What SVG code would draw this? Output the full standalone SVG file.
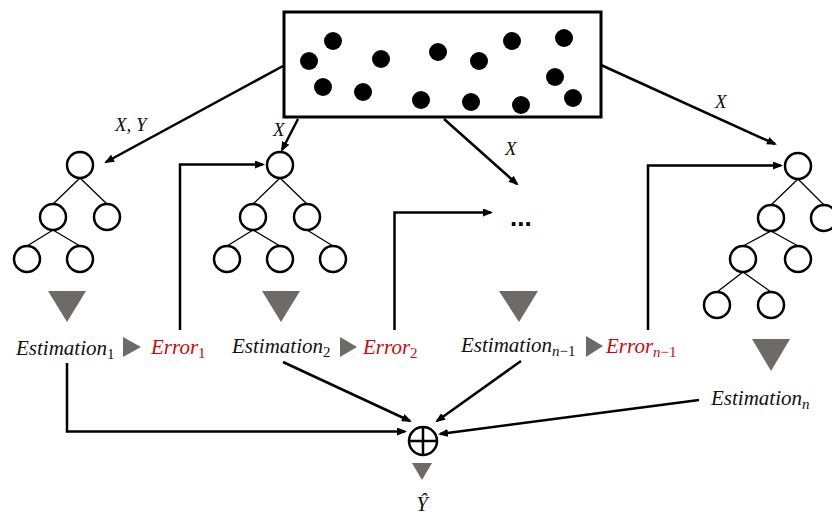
<svg xmlns="http://www.w3.org/2000/svg" width="832" height="516" viewBox="0 0 832 516">
<style>
.node{fill:#fff;stroke:#000;stroke-width:2.5}
.edge{stroke:#000;stroke-width:1.3;fill:none}
.conn{stroke:#000;stroke-width:2.5;fill:none}
.dot{fill:#000}
.tri{fill:#6f6a6a}
.lbl{font-family:"Liberation Serif","DejaVu Serif",serif;font-style:italic;font-size:21px;fill:#111}
.err{fill:#c80a0a}
.sub{font-size:15px}
.up{font-style:normal}
.xl{font-family:"Liberation Serif","DejaVu Serif",serif;font-style:italic;font-size:19px;fill:#111}
</style>
<defs>
<marker id="arr" viewBox="0 0 10 8" refX="8" refY="4" markerWidth="10" markerHeight="8" markerUnits="userSpaceOnUse" orient="auto">
<path d="M0,0 L10,4 L0,8 z" fill="#000"/>
</marker>
</defs>
<rect width="832" height="516" fill="#fff"/>

<g id="data">
<rect x="284" y="12" width="317" height="105" fill="#fff" stroke="#000" stroke-width="3"/>
<circle class="dot" cx="333" cy="41" r="9"/>
<circle class="dot" cx="309" cy="61" r="9"/>
<circle class="dot" cx="381" cy="59" r="9"/>
<circle class="dot" cx="323" cy="87" r="9"/>
<circle class="dot" cx="363" cy="92" r="9"/>
<circle class="dot" cx="438" cy="52" r="9"/>
<circle class="dot" cx="479" cy="61" r="9"/>
<circle class="dot" cx="512" cy="41" r="9"/>
<circle class="dot" cx="564" cy="38" r="9"/>
<circle class="dot" cx="555" cy="77" r="9"/>
<circle class="dot" cx="573" cy="98" r="9"/>
<circle class="dot" cx="421" cy="100" r="9"/>
<circle class="dot" cx="471" cy="102" r="9"/>
<circle class="dot" cx="521" cy="105" r="9"/>
</g>

<g id="tree1">
<path class="edge" d="M80,178 L53,204 M80,178 L107,204 M53,230 L27,246 M53,230 L80,246"/>
<circle class="node" cx="80" cy="165" r="13"/>
<circle class="node" cx="53" cy="217" r="13"/>
<circle class="node" cx="107" cy="217" r="13"/>
<circle class="node" cx="27" cy="259" r="13"/>
<circle class="node" cx="80" cy="259" r="13"/>
<path class="tri" d="M48,291 L86,291 L67,322 z"/>
</g>

<g id="tree2">
<path class="edge" d="M280,178 L253,204 M280,178 L307,204 M253,230 L227,246 M253,230 L280,246 M307,230 L333,246"/>
<circle class="node" cx="280" cy="165" r="13"/>
<circle class="node" cx="253" cy="217" r="13"/>
<circle class="node" cx="307" cy="217" r="13"/>
<circle class="node" cx="227" cy="259" r="13"/>
<circle class="node" cx="280" cy="259" r="13"/>
<circle class="node" cx="333" cy="259" r="13"/>
<path class="tri" d="M262,291 L300,291 L281,322 z"/>
</g>

<g id="treeN1">
<text x="510" y="226" font-family="Liberation Sans, Arial, sans-serif" font-weight="bold" font-size="26" fill="#000">...</text>
<path class="tri" d="M499,291 L538,291 L519,322 z"/>
</g>

<g id="treeN">
<path class="edge" d="M798,179 L771,205 M798,179 L824,205 M771,231 L743,246 M771,231 L798,246 M743,272 L717,292 M743,272 L771,292"/>
<circle class="node" cx="798" cy="166" r="13"/>
<circle class="node" cx="771" cy="218" r="13"/>
<circle class="node" cx="824" cy="218" r="13"/>
<circle class="node" cx="743" cy="259" r="13"/>
<circle class="node" cx="798" cy="259" r="13"/>
<circle class="node" cx="717" cy="305" r="13"/>
<circle class="node" cx="771" cy="305" r="13"/>
<path class="tri" d="M752,339 L790,339 L771,371 z"/>
</g>

<g id="labels">
<text class="lbl" x="16" y="355">Estimation<tspan class="sub up" dy="4">1</tspan></text>
<path class="tri" d="M123,337 L123,357 L141,347 z"/>
<text class="lbl err" x="151" y="354">Error<tspan class="sub up" dy="4">1</tspan></text>
<text class="lbl" x="232" y="353">Estimation<tspan class="sub up" dy="4">2</tspan></text>
<path class="tri" d="M340,337 L340,357 L357,347 z"/>
<text class="lbl err" x="363" y="354">Error<tspan class="sub up" dy="4">2</tspan></text>
<text class="lbl" x="461" y="352">Estimation<tspan class="sub" dy="4">n</tspan><tspan class="sub up">−1</tspan></text>
<path class="tri" d="M586,336 L586,357 L603,346 z"/>
<text class="lbl err" x="606" y="353">Error<tspan class="sub" dy="4">n</tspan><tspan class="sub up">−1</tspan></text>
<text class="lbl" x="711" y="405">Estimation<tspan class="sub" dy="4">n</tspan></text>
</g>

<g id="sum">
<circle cx="423" cy="441" r="14" fill="#fff" stroke="#000" stroke-width="2.5"/>
<path d="M409,441 L437,441 M423,427 L423,455" stroke="#000" stroke-width="2.5"/>
<path class="tri" d="M412,463 L432,463 L422,480 z"/>
<text class="lbl" x="422" y="511" text-anchor="middle" font-size="24">Ŷ</text>
</g>

<g id="connectors">
<line class="conn" x1="283" y1="66" x2="106" y2="162" marker-end="url(#arr)"/>
<line class="conn" x1="298" y1="119" x2="282" y2="150" marker-end="url(#arr)"/>
<line class="conn" x1="444" y1="119" x2="517" y2="184" marker-end="url(#arr)"/>
<line class="conn" x1="601" y1="65" x2="775" y2="144" marker-end="url(#arr)"/>
<polyline class="conn" points="180,330 180,164.5 263,164.5" marker-end="url(#arr)"/>
<polyline class="conn" points="394.5,330 394.5,212.5 491,212.5" marker-end="url(#arr)"/>
<polyline class="conn" points="648,330 648,165.5 781,165.5" marker-end="url(#arr)"/>
<polyline class="conn" points="67,363 67,431.5 405,431.5" marker-end="url(#arr)"/>
<line class="conn" x1="283" y1="362" x2="410" y2="421" marker-end="url(#arr)"/>
<line class="conn" x1="521" y1="361" x2="437" y2="421" marker-end="url(#arr)"/>
<line class="conn" x1="699" y1="400" x2="440" y2="434" marker-end="url(#arr)"/>
<text class="xl" x="115" y="131">X, Y</text>
<text class="xl" x="273" y="136">X</text>
<text class="xl" x="505" y="155">X</text>
<text class="xl" x="715" y="108">X</text>
</g>
</svg>
